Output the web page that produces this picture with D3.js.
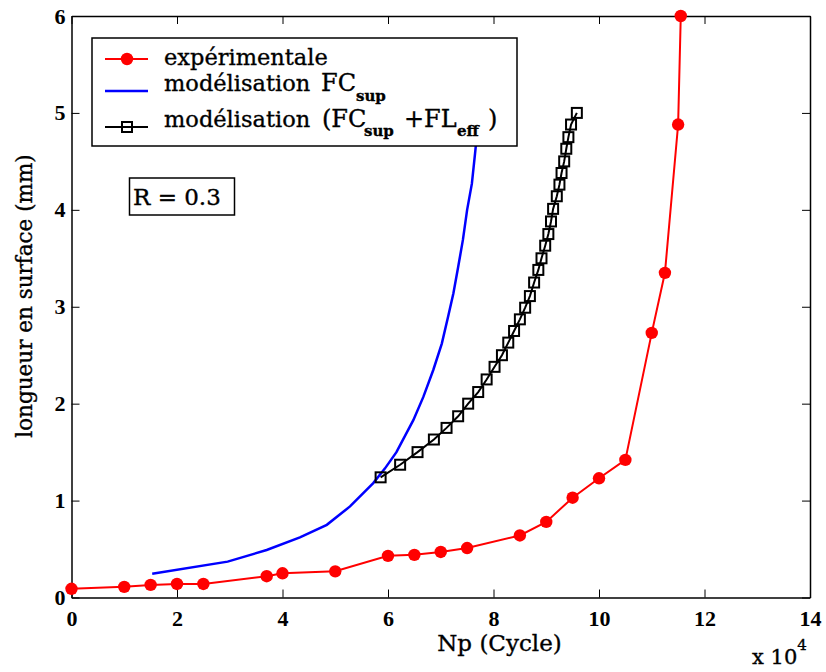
<!DOCTYPE html>
<html>
<head>
<meta charset="utf-8">
<script src="https://cdn.jsdelivr.net/npm/d3@7"></script>
<style>
  body { margin: 0; background: #fff; }
  svg text { font-family: "DejaVu Serif", serif; fill: #000; }
  svg text.heavy { stroke: #000; stroke-width: 0.35px; }
</style>
</head>
<body>
<svg id="chart" width="826" height="672"></svg>
<script>
"use strict";

// experimental points (Np in 1e4 cycles, length in mm)
const expX = [0, 1, 1.5, 2, 2.5, 3.7, 4, 5, 6, 6.5, 7, 7.5, 8.5, 9, 9.5, 10, 10.5, 11, 11.25, 11.5, 11.55];
const expY = [0.09, 0.11, 0.13, 0.14, 0.14, 0.22, 0.25, 0.27, 0.43, 0.44, 0.47, 0.51, 0.64, 0.78, 1.03, 1.23, 1.42, 2.73, 3.35, 4.88, 6.0];

// FC_sup model (blue line)
const fcX = [1.53, 2.96, 3.70, 4.33, 4.84, 5.28, 5.72, 5.94, 6.16, 6.48, 6.67, 6.86, 7.02, 7.14, 7.24, 7.33, 7.42, 7.50, 7.59, 7.65, 7.70, 7.74];
const fcY = [0.245, 0.37, 0.49, 0.62, 0.75, 0.94, 1.18, 1.33, 1.50, 1.83, 2.07, 2.35, 2.62, 2.90, 3.14, 3.41, 3.69, 4.00, 4.27, 4.58, 4.85, 5.10];

// FC_sup + FL_eff model (black squares)
const fclX = [5.86, 6.23, 6.56, 6.87, 7.11, 7.33, 7.52, 7.71, 7.87, 8.02, 8.16, 8.28, 8.39, 8.50, 8.60, 8.69,
              8.77, 8.85, 8.91, 8.98, 9.04, 9.09, 9.13, 9.20, 9.25, 9.29, 9.34, 9.38, 9.42, 9.47, 9.58];
const fclY = [1.24, 1.37, 1.50, 1.63, 1.75, 1.87, 2.00, 2.12, 2.25, 2.38, 2.50, 2.63, 2.75, 2.87, 2.99, 3.11,
              3.25, 3.38, 3.50, 3.63, 3.75, 3.88, 4.01, 4.14, 4.26, 4.38, 4.50, 4.63, 4.75, 4.88, 5.00];

const xTicks = [0, 2, 4, 6, 8, 10, 12, 14];
const yTicks = [0, 1, 2, 3, 4, 5, 6];

const svg = d3.select("#chart");

let x = d3.scaleLinear().domain([0, 14]).range([71.5, 810]);
let y = d3.scaleLinear().domain([0, 6]).range([597.5, 16]);

// Axes, ticks pointing inward on all four sides
function styleAxis(g) {
    g.selectAll("path.domain").style("stroke", "#000").style("stroke-width", "1.5px");
    g.selectAll(".tick line").style("stroke", "#000").style("stroke-width", "1px");
    g.selectAll(".tick text").style("font-family", "'Liberation Serif', serif").style("font-size", "22px")
        .style("font-weight", "bold").style("fill", "#000");
}

svg.append("g")
    .attr("transform", "translate(0," + y(0) + ")")
    .call(d3.axisBottom(x).tickValues(xTicks).tickFormat(d3.format("d")).tickSize(-8).tickSizeOuter(0).tickPadding(13))
    .call(styleAxis);

svg.append("g")
    .attr("transform", "translate(0," + y(6) + ")")
    .call(d3.axisTop(x).tickValues(xTicks).tickFormat("").tickSize(-8).tickSizeOuter(0))
    .call(styleAxis);

svg.append("g")
    .attr("transform", "translate(" + x(0) + ",0)")
    .call(d3.axisLeft(y).tickValues(yTicks).tickFormat(d3.format("d")).tickSize(-8).tickSizeOuter(0).tickPadding(6))
    .call(styleAxis);

svg.append("g")
    .attr("transform", "translate(" + x(14) + ",0)")
    .call(d3.axisRight(y).tickValues(yTicks).tickFormat("").tickSize(-8).tickSizeOuter(0))
    .call(styleAxis);

// Axis titles
svg.append("text")
    .attr("class", "heavy")
    .attr("x", 499.5).attr("y", 651)
    .attr("text-anchor", "middle")
    .style("font-size", "23px")
    .text("Np (Cycle)");

let mult = svg.append("text")
    .attr("class", "heavy")
    .attr("x", 752).attr("y", 664)
    .style("font-size", "21px")
    .text("x 10");
mult.append("tspan").attr("dy", -14).style("font-size", "15px").text("4");

svg.append("text")
    .attr("class", "heavy")
    .attr("transform", "translate(32,296) rotate(-90)")
    .attr("text-anchor", "middle")
    .style("font-size", "21.5px")
    .text("longueur en surface (mm)");

// Series
let line = d3.line().x(d => x(d[0])).y(d => y(d[1]));

let fcData = fcX.map((v, i) => [v, fcY[i]]);
svg.append("path")
    .datum(fcData)
    .attr("d", line)
    .style("fill", "none")
    .style("stroke", "#0000ff")
    .style("stroke-width", "2.5px");

let fclData = fclX.map((v, i) => [v, fclY[i]]);
svg.append("path")
    .datum(fclData)
    .attr("d", line)
    .style("fill", "none")
    .style("stroke", "#000")
    .style("stroke-width", "2px");
svg.selectAll(".sq").data(fclData).enter().append("rect")
    .attr("class", "sq")
    .attr("x", d => x(d[0]) - 5)
    .attr("y", d => y(d[1]) - 5)
    .attr("width", 10).attr("height", 10)
    .style("fill", "none")
    .style("stroke", "#000")
    .style("stroke-width", "2px");

let expData = expX.map((v, i) => [v, expY[i]]);
svg.append("path")
    .datum(expData)
    .attr("d", line)
    .style("fill", "none")
    .style("stroke", "#ff0000")
    .style("stroke-width", "2px");
svg.selectAll(".dot").data(expData).enter().append("circle")
    .attr("class", "dot")
    .attr("cx", d => x(d[0]))
    .attr("cy", d => y(d[1]))
    .attr("r", 6.2)
    .style("fill", "#ff0000");

// Legend (white box drawn over the blue curve)
let leg = svg.append("g");
leg.append("rect")
    .attr("x", 92).attr("y", 38).attr("width", 425).attr("height", 108)
    .style("fill", "#fff").style("stroke", "#000").style("stroke-width", "1.5px");

leg.append("line").attr("x1", 105).attr("x2", 148).attr("y1", 59).attr("y2", 59)
    .style("stroke", "#ff0000").style("stroke-width", "2px");
leg.append("circle").attr("cx", 127).attr("cy", 59).attr("r", 6.2).style("fill", "#ff0000");

leg.append("line").attr("x1", 105).attr("x2", 148).attr("y1", 91).attr("y2", 91)
    .style("stroke", "#0000ff").style("stroke-width", "2.5px");

leg.append("line").attr("x1", 105).attr("x2", 148).attr("y1", 127).attr("y2", 127)
    .style("stroke", "#000").style("stroke-width", "2px");
leg.append("rect").attr("x", 122).attr("y", 122).attr("width", 10).attr("height", 10)
    .style("fill", "none").style("stroke", "#000").style("stroke-width", "2px");

leg.append("text").attr("class", "heavy").attr("x", 164).attr("y", 65).style("font-size", "22.5px").text("expérimentale");

// TeX-like label pieces, each placed where the reference puts it
let t2 = leg.append("text").attr("class", "heavy").attr("y", 91).style("font-size", "22.5px");
t2.append("tspan").attr("x", 164).text("modélisation");
t2.append("tspan").attr("x", 321).style("font-size", "24px").text("FC");
t2.append("tspan").attr("x", 356).attr("dy", 10).style("font-size", "15px").style("font-weight", "bold").text("sup");

let t3 = leg.append("text").attr("class", "heavy").attr("y", 127).style("font-size", "22.5px");
t3.append("tspan").attr("x", 164).text("modélisation");
t3.append("tspan").attr("x", 322).style("font-size", "24px").text("(FC");
t3.append("tspan").attr("x", 364).attr("dy", 9).style("font-size", "15px").style("font-weight", "bold").text("sup");
t3.append("tspan").attr("x", 404).attr("dy", -9).style("font-size", "24px").text("+FL");
t3.append("tspan").attr("x", 457).attr("dy", 9).style("font-size", "15px").style("font-weight", "bold").text("eff");
t3.append("tspan").attr("x", 488).attr("dy", -9).style("font-size", "24px").text(")");

// R annotation
svg.append("rect")
    .attr("x", 129.5).attr("y", 178).attr("width", 105).attr("height", 37)
    .style("fill", "#fff").style("stroke", "#000").style("stroke-width", "1.5px");
svg.append("text")
    .attr("class", "heavy")
    .attr("x", 133).attr("y", 205)
    .style("font-size", "23px")
    .text("R = 0.3");
</script>
</body>
</html>
